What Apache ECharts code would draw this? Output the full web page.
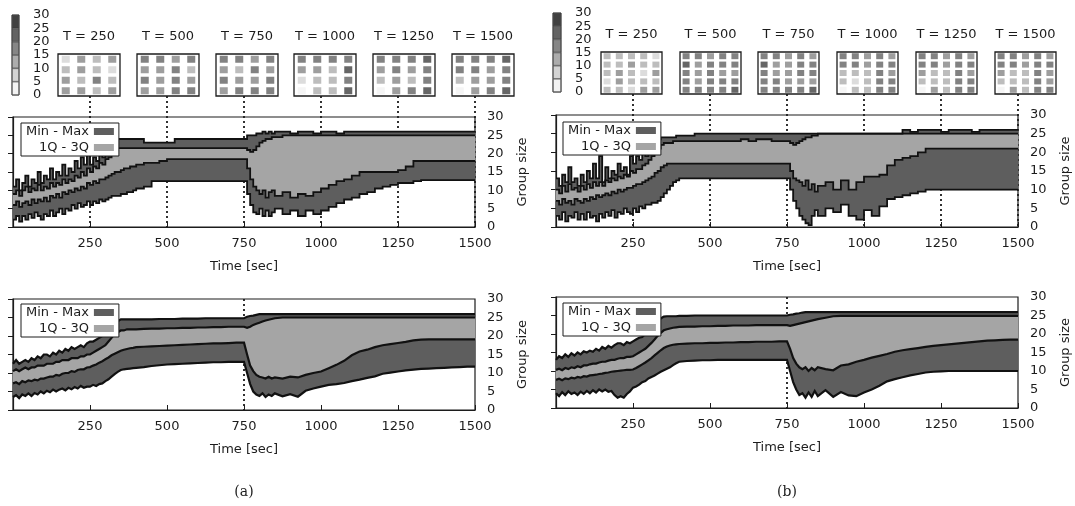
<!DOCTYPE html>
<html lang="en">
<head>
<meta charset="UTF-8">
<title>Group size over time</title>
<script src="https://cdn.jsdelivr.net/npm/echarts@6/dist/echarts.min.js"></script>
<style>
  html, body { margin: 0; background: #fff; }
  #chart { width: 1075px; height: 506px; }
</style>
</head>
<body>
<div id="chart"></div>
<script>
// sample times [sec]
const times = [0,10,20,30,40,50,60,70,80,90,100,110,120,130,140,150,160,170,180,190,200,210,220,230,240,250,260,270,280,290,300,310,320,330,340,350,360,370,380,390,400,
  425,450,475,500,525,550,575,600,625,650,675,700,725,
  750,760,770,780,790,800,810,820,830,840,850,
  875,900,925,950,975,1000,1025,1050,1075,1100,1125,1150,1175,1200,1225,1250,1275,1300,1325,1350,1375,1400,1425,1450,1475,1500];

// (a) top
const aTopMax = [11,13,10,12,14,11,13,12,15,12, 14,13,16,13,15,14,17,14,16,15, 18,16,19,17,20,17,19,18,21,19, 22,21,23,24,24,24,24,24,24,24, 24,
  23,23,23,23,24,24,24,24,24,24,24,24,24,
  24,25,25,25,25.5,25.5,26,25.5,26,25.5,26,
  26,25.5,26,26,25.5, 26,26,25.5,26,26, 26,26,26,26,26, 26,26,26,26,26, 26,26,26,26,26, 26];
const aTopQ3 = [9,10,8.5,10,11,9.5,10.5,10,11.5,10, 11,10.5,12,11,12,11.5,13,12,13,12.5, 14,13.5,15,14,16,15,16.5,16,17.5,17, 18.5,19,20,21,21.5,21.5,21.5,21.5,21.5,21.5, 21.5,
  21.5,21.5,21.5,21.5,21.5,21.5,21.5,21.5,21.5,21.5,21.5,21.5,21.5,
  21.5,21,20.5,21,22,23,23.5,24,24,24.5,24.5,
  25,25,25,25,25, 25,25,25,25,25, 25,25,25,25,25, 25,25,25,25,25, 25,25,25,25,25, 25];
const aTopQ1 = [6,7,5.5,6.5,7,6,7.5,6.5,7.5,7, 8,7,8.5,8,9,8,9.5,9,10,9.5, 10.5,10,11,10.5,12,11.5,12.5,12,13,13, 13.5,14,14.5,15,15,15.5,16,16,16.5,16.5, 17,
  17.5,17.5,18,18.5,18.5,18.5,18.5,18.5,18.5,18.5,18.5,18.5,18.5,
  18.5,16,13,11,10,9,10,8,9.5,10,8.5,
  9.5,8,9,8.5,9.5, 10.5,11.5,12.5,13,14, 15,15,15,15,15, 15.5,16.5,18,18,18, 18,18,18,18,18, 18];
const aTopMin = [2,3,1.5,3,2,3.5,2.5,4,3,2, 3.5,3,4.5,3,4,5,3.5,5,4.5,6, 5,6.5,5.5,6,7,6,7,6.5,7.5,7, 7.5,8,8.5,8.5,8.5,9,9,9.5,9.5,10, 10.5,
  11,12.5,12.5,12.5,12.5,12.5,12.5,12.5,12.5,12.5,12.5,12.5,12.5,
  12.5,9,6,4,3.5,5,3,4.5,3,4,5,
  3.5,4.5,3,4.5,3.5, 4.5,5.5,6.5,7.5,8, 9,9.5,10.5,11,11.5, 12,12,12.5,12.8,12.8, 12.8,12.8,12.8,12.8,12.8, 12.8];

// (a) bottom
const aBotMax = [12.5,13.5,12.5,13,13.5,13,14,13.5,14.5,14, 15,15,14.5,15.5,15,16,15.5,16.5,16,17, 16.5,17,17.5,17,18,18.5,18.5,19,19.5,20, 20.5,21,22,23,24,24.5,24.5,24.5,24.5,24.5, 24.5,
  24.5,24.5,24.6,24.6,24.6,24.7,24.7,24.7,24.8,24.8,24.8,24.8,24.8,
  24.8,25.2,25.4,25.5,25.7,25.9,25.9,25.9,25.9,25.9,25.9,
  25.9,25.9,25.9,25.9,25.9, 25.9,25.9,25.9,25.9,25.9, 25.9,25.9,25.9,25.9,25.9, 25.9,25.9,25.9,25.9,25.9, 25.9,25.9,25.9,25.9,25.9, 25.9];
const aBotQ3 = [10.5,11,10.5,11,11.5,11,11.5,11.5,12,12, 12,12.5,12.5,12.5,13,13,13.5,13.5,13.5,14, 14,14,14.5,14.5,15,15,15.5,16,16.5,17, 17.5,18.5,19.5,20.5,21,21.5,21.5,21.8,21.8,21.8, 21.8,
  21.9,22,22,22.1,22.1,22.2,22.2,22.3,22.3,22.4,22.4,22.5,22.5,
  22.5,22.2,22.5,23,23.3,23.6,23.9,24.2,24.4,24.6,24.8,
  25,25,25,25,25, 25,25,25,25,25, 25,25,25,25,25, 25,25,25,25,25, 25,25,25,25,25, 25];
const aBotQ1 = [7.2,7.5,7,7.8,7.5,8,7.8,8.2,8,8.5, 8.5,8.8,9,9,9.5,9.3,9.8,10,10,10.5, 10.3,10.8,11,11,11.5,11.6,12,12.3,12.8,13.2, 13.7,14.2,14.8,15.2,15.6,16,16.3,16.5,16.7,16.8, 17,
  17.1,17.2,17.3,17.4,17.5,17.6,17.7,17.8,17.9,18,18,18.1,18.2,
  18.2,15,12,10.5,9.5,9,8.8,8.5,9,8.5,8.8,
  8.5,9,8.8,9.5,10, 10.4,11.3,12.2,13.3,14.8, 15.8,16.3,17,17.5,17.8, 18.1,18.4,18.8,19,19.1, 19.1,19.1,19.1,19.1,19.1, 19.1];
const aBotMin = [3.5,4,3.2,4.2,3.8,4.5,3.8,4.6,4.2,5, 4.5,5.2,4.8,5.5,5,5.5,5.8,5.3,6,5.6, 6.2,5.8,6.5,6,6.3,6.3,6.8,6.5,7,7.2, 7.8,8.3,9,9.7,10.3,10.8,11,11.1,11.2,11.3, 11.4,
  11.6,11.9,12.1,12.3,12.4,12.5,12.6,12.7,12.8,12.9,12.9,13,13,
  13,10,7,5,4.2,3.8,4.5,3.5,4.2,3.8,4.5,
  3.7,4.3,3.6,5.2,5.8, 6.3,6.8,7,7.3,7.8, 8.2,8.7,9.1,9.8,10.1, 10.4,10.7,10.9,11.1,11.2, 11.3,11.4,11.5,11.6,11.7, 11.7];

// (b) top
const bTopMax = [13,11,14,12,16,12,13,11,14,12, 15,13,17,13,19,12,16,13,15,14, 17,15,16,14,19,17,19,18,20,19, 21,21,22,23.5,24,24,24,24,24,24.5, 24.5,
  24.5,25,25,25,25,25,25,25,25,25,25,25,25,
  25,25,25,25,25,25,25,25,25,25,25,
  25,25,25,25,25, 25,25,25,25,25, 26,25.5,26,26,26, 25.5,26,26,26,25.5, 26,26,26,26,26, 26];
const bTopQ3 = [10,9,11,9.5,11.5,10,10.5,9.5,11,10, 11.5,10.5,12,11,12,11,12.5,12,13,12.5, 13.5,13,14,13.5,15,14.5,15.5,15.5,16.5,17, 18,19,20,21,22,22.5,22.5,22.5,23,23, 23,
  23,23,23,23,23,23,23,23.5,23,23.5,23.5,23,23,
  23,22.5,22,22.5,23,23.5,24,24,24.5,24.5,25,
  25,25,25,25,25, 25,25,25,25,25, 25,25,25,25,25, 25,25,25,25,25, 25,25,25,25,25, 25];
const bTopQ1 = [7,6,7.5,6.5,7,6,7.5,7,6.5,7.5, 7,8,7.5,8.5,8,8.5,9,8.5,9.5,9, 10,9.5,10,10.5,10.5,11,11.5,11.5,12,12.5, 13,13.5,14.5,15,16,16.5,17,17,17,17, 17,
  17,17,17,17,17,17,17,17,17,17,17,17,17,
  17,15,13,12.5,12,11,12.5,10,11.5,9.5,11,
  12,10,12.5,10,12, 13.5,13.5,14,16.5,18, 18.5,19,20,21,21, 21,21,21,21,21, 21,21,21,21,21, 21];
const bTopMin = [3,2,4,1.5,3,2.5,4,2,3.5,2, 4,2.5,3,1.5,3.5,2.5,4,3,4.5,2.5, 4,3.5,5,4,3.5,5,4,5.5,5,6, 6,6.5,6.5,7,8,9,10,11,12,12.5, 13,
  13,13,13,13,13,13,13,13,13,13,13,13,13,
  13,10,7,5,3,2,1,0.5,3,4.5,3,
  5,4,6,3,2, 4.5,3,5.5,7.5,8, 8.5,9,9.5,10,10, 10,10,10,10,10, 10,10,10,10,10, 10];

// (b) bottom
const bBotMax = [13,14,13.5,14.5,13.8,14.8,14.2,15,14.5,15.3, 15,15.5,15.2,16,15.5,16.5,16,16.8,16.3,17, 17.5,17.5,17,17.8,17.5,18,18.5,19,19.2,20, 20.5,21.3,22.3,23.3,24.2,24.7,24.8,24.8,24.8,24.8, 24.9,
  24.9,25,25,25,25,25,25,25,25,25,25,25,25,
  25,25.2,25.3,25.5,25.6,25.8,25.9,25.9,25.9,25.9,25.9,
  25.9,25.9,25.9,25.9,25.9, 25.9,25.9,25.9,25.9,25.9, 25.9,25.9,25.9,25.9,25.9, 25.9,25.9,25.9,25.9,25.9, 25.9,25.9,25.9,25.9,25.9, 25.9];
const bBotQ3 = [10.3,10.6,10.2,10.8,10.5,11,10.8,11.3,11,11.5, 11.5,11.8,12,12,12.3,12.5,12.5,12.8,13,13, 13.3,13.5,13.5,13.8,13.8,14,14.5,15,15.5,16, 16.8,17.6,18.5,19.5,20.3,21,21.3,21.5,21.7,21.8, 21.9,
  22,22,22.1,22.1,22.2,22.2,22.3,22.3,22.3,22.4,22.4,22.4,22.4,
  22.4,22.2,22.4,22.6,22.8,23,23.2,23.4,23.6,23.8,24,
  24.4,24.8,24.9,24.9,24.9, 24.9,24.9,24.9,24.9,24.9, 24.9,24.9,24.9,24.9,24.9, 24.9,24.9,24.9,24.9,24.9, 24.9,24.9,24.9,24.9,24.9, 24.9];
const bBotQ1 = [7.6,7.9,7.5,8,7.8,8.2,8,8.4,8.2,8.6, 8.5,8.8,8.9,9,9.2,9.3,9.5,9.6,9.8,9.9, 10,10.1,10.2,10.3,10.3,10.4,10.8,11.3,11.8,12.3, 12.9,13.5,14.2,14.9,15.6,16.2,16.6,16.9,17.1,17.2, 17.3,
  17.4,17.5,17.5,17.6,17.6,17.7,17.7,17.8,17.8,17.9,17.9,17.9,18,
  18,16,13.5,12,11,10.5,11,10,10.8,10.2,11,
  10.5,10.2,11.5,11.8,12.5, 13,13.6,14.1,14.6,15.2, 15.6,15.9,16.2,16.5,16.8, 17,17.2,17.4,17.6,17.8, 18,18.2,18.3,18.4,18.5, 18.5];
const bBotMin = [4,3.2,4.3,3.5,4.5,3.8,4.2,3.5,4.4,3.8, 4.6,4,4.8,4.2,5,4.5,5,4.4,4.6,3.5, 2.8,3.2,2.8,3.8,4.5,5.5,5.8,6.3,7,7.3, 8,8.4,8.8,9.3,9.8,10.2,10.6,11,11.6,12.1, 12.5,
  12.7,12.8,12.9,12.9,13,13,13,13,13,13,13,13,13,
  13,10,7,5,3.5,4,2.8,4.2,3,4.6,3.2,
  4.8,3,4.3,3.4,3.2, 4.2,5,6,7.2,7.8, 8.3,8.8,9.2,9.6,9.8, 9.9,10,10,10,10, 10,10,10,10,10, 10];

// snapshot times and group sizes per cell (rows top -> bottom)
const snapTimes = [250, 500, 750, 1000, 1250, 1500];
const aSnaps = [
  [[7,17,12,15],[10,15,10,7],[18,10,21,12],[18,15,12,16]],
  [[22,22,18,24],[18,16,22,12],[23,18,22,17],[17,18,22,23]],
  [[22,22,18,22],[18,12,22,18],[22,17,18,22],[18,22,23,22]],
  [[24,24,24,24],[18,17,12,26],[5,12,12,22],[1,13,10,26]],
  [[24,24,24,25],[18,22,17,24],[12,16,13,24],[2,17,22,25]],
  [[24,24,24,26],[22,22,17,24],[12,15,17,23],[2,16,22,25]]
];
const bSnaps = [
  [[10,10,12,10,7],[12,12,15,12,12],[10,15,12,5,15],[7,15,12,10,12],[12,12,5,18,17]],
  [[22,24,16,20,22],[25,18,20,24,20],[22,17,20,18,18],[20,18,20,24,22],[22,22,22,22,25]],
  [[22,22,17,20,18],[25,18,15,20,20],[22,18,16,20,20],[22,20,18,18,16],[22,22,22,22,25]],
  [[22,24,18,22,18],[22,22,17,20,20],[12,10,10,22,18],[12,5,10,22,22],[1,12,12,22,22]],
  [[22,24,18,20,18],[22,20,17,20,20],[18,10,12,22,18],[12,10,12,22,20],[1,17,12,22,22]],
  [[22,24,18,22,18],[22,20,17,22,20],[18,12,12,22,18],[12,10,12,22,17],[1,17,12,22,22]]
];
const levels = [0, 5, 10, 15, 20, 25, 30];
const levelColors = ['#f3f3f3', '#d3d3d3', '#acacac', '#868686', '#636363', '#404040'];

const dark = '#5e5e5e', light = '#a5a5a5', ink = '#1c1c1c', edge = '#111';
const font = 'DejaVu Sans';

const panels = [
  {values: [aTopMin, aTopQ1, aTopQ3, aTopMax], step: 'end', lw: 1.8,
   grid: {left: 13, top: 117, width: 462, height: 110}, legend: {left: 21, top: 123},
   guides: snapTimes,
   insets: {lefts: [58, 137, 216, 294, 373, 452], top: 54, width: 62, height: 42, size: [8, 7], snaps: aSnaps},
   bar: {left: 12, top: 15, width: 7, height: 80}},
  {values: [aBotMin, aBotQ1, aBotQ3, aBotMax], step: false, lw: 2.2,
   grid: {left: 13, top: 299, width: 462, height: 111}, legend: {left: 21, top: 304}, guides: [750]},
  {values: [bTopMin, bTopQ1, bTopQ3, bTopMax], step: 'end', lw: 1.8,
   grid: {left: 556, top: 115, width: 462, height: 112}, legend: {left: 563, top: 122},
   guides: snapTimes,
   insets: {lefts: [601, 680, 758, 837, 916, 995], top: 52, width: 61, height: 42, size: [7, 6], snaps: bSnaps},
   bar: {left: 553, top: 13, width: 8, height: 79}},
  {values: [bBotMin, bBotQ1, bBotQ3, bBotMax], step: false, lw: 2.2,
   grid: {left: 556, top: 297, width: 462, height: 111}, legend: {left: 563, top: 303}, guides: [750]}
];

// hold each value until the next sample time when drawn as steps
function stepPairs(vs, step) {
  const pts = [];
  vs.forEach((v, i) => {
    pts.push([times[i], v]);
    if (step && i < vs.length - 1) pts.push([times[i + 1], v]);
  });
  return pts;
}
const txt = {color: ink, fontFamily: font, fontSize: 13};

const grids = [], xAxes = [], yAxes = [], series = [], titles = [], insetSeries = [];

// filled band between two boundaries, drawn through the axis scales
function band(i, name, lower, upper, color, step) {
  return {
    type: 'custom', name: name, xAxisIndex: i, yAxisIndex: i, silent: true,
    data: [[0, 0]],
    renderItem: (params, api) => {
      const up = stepPairs(upper, step).map(p => api.coord(p));
      const lo = stepPairs(lower, step).map(p => api.coord(p)).reverse();
      return {type: 'polygon', shape: {points: up.concat(lo)},
        style: {fill: color, stroke: color, lineWidth: 0.5}};
    }
  };
}

// main panels
panels.forEach((p, i) => {
  grids.push(Object.assign({show: true, borderColor: ink, borderWidth: 1.2, outerBoundsMode: 'none'}, p.grid));
  xAxes.push({
    gridIndex: i, type: 'value', min: 0, max: 1500, interval: 250,
    axisLine: {lineStyle: {color: ink, width: 1.2}},
    axisTick: {inside: true, length: 5, lineStyle: {color: ink}},
    axisLabel: Object.assign({margin: 10, formatter: v => v === 0 ? '' : v}, txt),
    splitLine: {show: false},
    name: 'Time [sec]', nameLocation: 'middle', nameGap: 33, nameTextStyle: txt
  });
  yAxes.push({
    gridIndex: i, type: 'value', min: 0, max: 30, interval: 5, position: 'right',
    axisLine: {show: true, lineStyle: {color: ink, width: 1.2}},
    axisTick: {show: true, inside: true, length: 5, lineStyle: {color: ink}},
    axisLabel: Object.assign({margin: 12}, txt),
    splitLine: {show: false},
    name: 'Group size', nameLocation: 'middle', nameRotate: 90, nameGap: 41, nameTextStyle: txt
  });
  const [mn, q1, q3, mx] = p.values;
  series.push(
    band(i, 'Min - Max', mn, q1, dark, p.step),
    band(i, '1Q - 3Q', q1, q3, light, p.step),
    band(i, 'Min - Max', q3, mx, dark, p.step)
  );
});

// colour bars and snapshot insets
panels.forEach(p => {
  if (p.bar) {
    const g = grids.length;
    grids.push(Object.assign({show: true, borderColor: ink, borderWidth: 1, outerBoundsMode: 'none'}, p.bar));
    xAxes.push({gridIndex: g, type: 'category', data: ['c'], show: false});
    yAxes.push({gridIndex: g, type: 'value', min: 0, max: 30, interval: 5, position: 'right',
      axisLine: {show: false}, axisTick: {show: false}, splitLine: {show: false},
      axisLabel: Object.assign({margin: 14}, txt)});
    levelColors.forEach((c, k) => series.push({
      type: 'bar', xAxisIndex: g, yAxisIndex: g, stack: 'cb' + g, barWidth: '100%', silent: true,
      data: [levels[k + 1] - levels[k]],
      itemStyle: {color: c, borderColor: '#333', borderWidth: 0.6}
    }));
  }
  if (p.insets) {
    const ins = p.insets;
    ins.snaps.forEach((snap, k) => {
      const g = grids.length;
      grids.push({left: ins.lefts[k], top: ins.top, width: ins.width, height: ins.height,
        show: true, backgroundColor: '#fff', borderColor: ink, borderWidth: 1.3, outerBoundsMode: 'none'});
      xAxes.push({gridIndex: g, type: 'category', data: snap[0].map((_, c) => c), show: false});
      yAxes.push({gridIndex: g, type: 'category', data: snap.map((_, r) => r), inverse: true, show: false});
      const data = [];
      snap.forEach((row, r) => row.forEach((v, c) => data.push([c, r, v])));
      insetSeries.push(series.length);
      series.push({type: 'scatter', xAxisIndex: g, yAxisIndex: g, symbol: 'rect',
        symbolSize: ins.size, data: data, silent: true});
      titles.push({text: 'T = ' + snapTimes[k], left: ins.lefts[k] + ins.width / 2, top: ins.top - 24,
        textAlign: 'center', padding: 0, textStyle: Object.assign({fontWeight: 'normal'}, txt)});
    });
  }
});

titles.push(
  {text: '(a)', left: 244, top: 485, textAlign: 'center', padding: 0,
   textStyle: {fontFamily: 'DejaVu Serif', fontSize: 14, fontWeight: 'normal', color: ink}},
  {text: '(b)', left: 787, top: 485, textAlign: 'center', padding: 0,
   textStyle: {fontFamily: 'DejaVu Serif', fontSize: 14, fontWeight: 'normal', color: ink}}
);

const option = {
  animation: false,
  backgroundColor: '#fff',
  title: titles,
  grid: grids,
  xAxis: xAxes,
  yAxis: yAxes,
  visualMap: {
    type: 'piecewise', show: false, dimension: 2, seriesIndex: insetSeries,
    pieces: levelColors.map((c, k) => k === levelColors.length - 1
      ? {gte: levels[k], lte: levels[k + 1], color: c}
      : {gte: levels[k], lt: levels[k + 1], color: c})
  },
  legend: panels.map(p => ({
    left: p.legend.left, top: p.legend.top, orient: 'vertical', align: 'right',
    icon: 'rect', itemWidth: 20, itemHeight: 7, itemGap: 3, padding: [2, 5],
    selectedMode: false, backgroundColor: '#fff', borderColor: ink, borderWidth: 1, borderRadius: 0,
    z: 10,
    data: [{name: 'Min - Max', itemStyle: {color: dark, borderWidth: 0}},
           {name: '1Q - 3Q', itemStyle: {color: light, borderWidth: 0}}],
    formatter: n => '{r|' + n + '}',
    textStyle: Object.assign({rich: {r: Object.assign({width: 76, align: 'right'}, txt)}}, txt)
  })),
  series: series
};

const chart = echarts.init(document.getElementById('chart'));
chart.setOption(option);

const overlay = [];
// boundary curves (min, 1Q, 3Q, max) placed with the panel's own scales
panels.forEach((p, i) => {
  p.values.forEach(vs => {
    overlay.push({type: 'polyline', z: 5, silent: true,
      shape: {points: stepPairs(vs, p.step).map(pt => chart.convertToPixel({gridIndex: i}, pt))},
      style: {stroke: edge, lineWidth: p.lw, fill: null, lineJoin: 'miter'}});
  });
});
// dotted guides from the snapshots (or panel top) down to the time axis
panels.forEach((p, i) => {
  p.guides.forEach(t => {
    const base = chart.convertToPixel({gridIndex: i}, [t, 0]);
    const topY = p.insets ? p.insets.top + p.insets.height
                          : chart.convertToPixel({gridIndex: i}, [t, 30])[1];
    overlay.push({type: 'line', z: 1, silent: true,
      shape: {x1: base[0], y1: topY, x2: base[0], y2: base[1]},
      style: {stroke: ink, lineWidth: 1.8, lineDash: [2, 3]}});
  });
});
chart.setOption({graphic: {elements: overlay}});
</script>
</body>
</html>
